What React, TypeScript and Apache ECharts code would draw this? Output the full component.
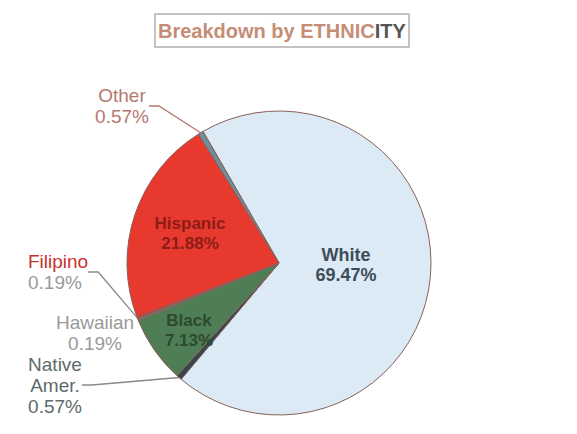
import React, { useEffect, useRef } from "react";
import * as echarts from "echarts";

const categories = ["White", "Native\nAmer.", "Black", "Hawaiian", "Filipino", "Hispanic", "Other"];
const values = [69.47, 0.57, 7.13, 0.19, 0.19, 21.88, 0.57];
const sliceColors = ["#dbeaf4", "#34474b", "#4f7d56", "#6f8c74", "#b8443a", "#e8392f", "#6e8f99"];
const labelColors = ["#3e4c5a", "#5d6b6b", "#2c4a2e", "#9a9a9a", "#c8322d", "#8e1c18", "#b47870"];
const insideItems = ["White", "Black", "Hispanic"];
// label anchor centres (layout only)
const labelPos: Record<string, [number, number, string]> = {
  "White": [346, 265, "center"],
  "Native\nAmer.": [55, 385, "center"],
  "Black": [189, 330, "center"],
  "Hawaiian": [95, 333, "center"],
  "Filipino": [28, 272, "left"],
  "Hispanic": [190, 233, "center"],
  "Other": [122, 106, "center"],
};

const FONT = "'Liberation Sans', Arial, Helvetica, sans-serif";

export default function App() {
  const ref = useRef<HTMLDivElement>(null);
  useEffect(() => {
    document.body.style.margin = "0";
    const chart = echarts.init(ref.current!, null, { renderer: "svg" });
    const data = categories.map((name, i) => {
      const inside = insideItems.includes(name);
      const isFil = name === "Filipino";
      return {
        name,
        value: values[i],
        itemStyle: { color: sliceColors[i] },
        label: {
          position: inside ? "inside" : "outside",
          color: labelColors[i],
          fontSize: inside ? (name === "White" ? 18 : 17) : 19,
          fontWeight: inside ? "bold" : "normal",
          lineHeight: inside ? 20 : 21,
          align: labelPos[name][2],
          formatter: isFil ? "{n|{b}}\n{p|{d}%}" : "{b}\n{d}%",
          rich: isFil
            ? {
                n: { color: "#c8322d", fontSize: 19, fontFamily: FONT, lineHeight: 21 },
                p: { color: "#9a9a9a", fontSize: 19, fontFamily: FONT, lineHeight: 21 },
              }
            : undefined,
        },
        labelLine: {
          show: !inside && name !== "Hawaiian",
          lineStyle: {
            color: name === "Other" ? "#b47870" : "#8a8a8a",
            width: 1.3,
          },
        },
      };
    });
    chart.setOption({
      animation: false,
      backgroundColor: "#ffffff",
      title: {
        text: "Breakdown by ETHNIC{g|ITY}",
        left: 155,
        top: 14,
        padding: [7, 3, 6, 3],
        borderColor: "#b0b0b0",
        borderWidth: 1.5,
        textStyle: {
          color: "#c68d76",
          fontSize: 20,
          fontWeight: "bold",
          fontFamily: FONT,
          rich: {
            g: { color: "#555555", fontSize: 20, fontWeight: "bold", fontFamily: FONT },
          },
        },
      },
      series: [
        {
          type: "pie",
          center: [279, 263],
          radius: 152,
          startAngle: 120,
          clockwise: true,
          avoidLabelOverlap: false,
          itemStyle: { borderColor: "#8a5f5a", borderWidth: 1 },
          label: { fontFamily: FONT, precision: 2 },
          labelLine: { length: 15, length2: 10 },
          labelLayout: (params: any) => {
            const name = categories[params.dataIndex];
            const p = labelPos[name];
            return { x: p[0], y: p[1], align: p[2], verticalAlign: "middle" };
          },
          data,
        },
      ],
    });
    return () => chart.dispose();
  }, []);
  return <div ref={ref} style={{ width: 577, height: 434 }} />;
}
